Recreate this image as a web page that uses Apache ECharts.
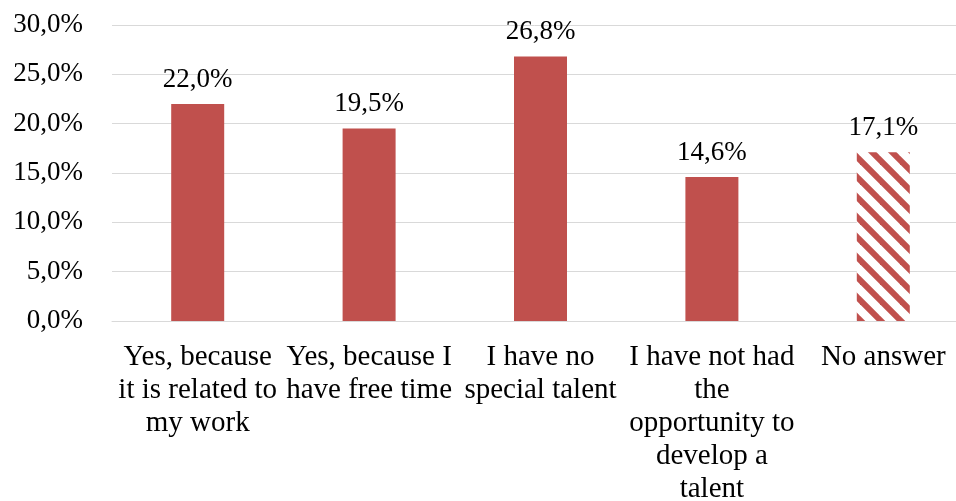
<!DOCTYPE html>
<html>
<head>
<meta charset="utf-8">
<script src="https://cdn.jsdelivr.net/npm/echarts@6/dist/echarts.min.js"></script>
<style>html,body{margin:0;padding:0;background:#fff;}#c{width:956px;height:501px;}</style>
</head>
<body>
<div id="c"></div>
<script>
const categories = [
  'Yes, because\nit is related to\nmy work',
  'Yes, because I\nhave free time',
  'I have no\nspecial talent',
  'I have not had\nthe\nopportunity to\ndevelop a\ntalent',
  'No answer'
];
const values = [22.0, 19.5, 26.8, 14.6, 17.1];
const yTicks = { min: 0, max: 30, interval: 5 };

const RED = '#C0504D';
function makeStripe() {
  const s = 20;
  const cv = document.createElement('canvas');
  cv.width = s; cv.height = s;
  const ctx = cv.getContext('2d');
  ctx.fillStyle = '#ffffff';
  ctx.fillRect(0, 0, s, s);
  ctx.strokeStyle = RED;
  ctx.lineWidth = 6;
  for (const c of [-s, 0, s]) {
    ctx.beginPath();
    ctx.moveTo(-5, -5 + c);
    ctx.lineTo(s + 5, s + 5 + c);
    ctx.stroke();
  }
  return cv;
}
const stripe = makeStripe();

const fmt = v => v.toFixed(1).replace('.', ',') + '%';
const FONT = 'Liberation Serif';

const chart = echarts.init(document.getElementById('c'), null, { renderer: 'canvas' });
chart.setOption({
  animation: false,
  backgroundColor: '#ffffff',
  grid: { left: 112, right: -13, top: 25, bottom: 180, containLabel: false, outerBoundsMode: 'none' },
  xAxis: {
    type: 'category',
    data: categories,
    axisLine: { lineStyle: { color: '#D9D9D9', width: 1 } },
    axisTick: { show: false },
    axisLabel: {
      interval: 0, margin: 20, color: '#000', fontFamily: FONT, fontSize: 29,
      lineHeight: 33, align: 'center', hideOverlap: false
    }
  },
  yAxis: {
    type: 'value',
    min: yTicks.min, max: yTicks.max, interval: yTicks.interval,
    axisLine: { show: false },
    axisTick: { show: false },
    splitLine: { lineStyle: { color: '#D9D9D9', width: 1 } },
    axisLabel: {
      margin: 29, color: '#000', fontFamily: FONT, fontSize: 27,
      formatter: v => fmt(v)
    }
  },
  series: [{
    type: 'bar',
    barWidth: 53,
    data: values.map((v, i) => ({
      value: v,
      itemStyle: { color: i === values.length - 1 ? { image: stripe, repeat: 'repeat' } : RED }
    })),
    label: {
      show: true, position: 'top', distance: 11,
      color: '#000', fontFamily: FONT, fontSize: 27,
      formatter: p => fmt(p.value)
    }
  }]
});
</script>
</body>
</html>
